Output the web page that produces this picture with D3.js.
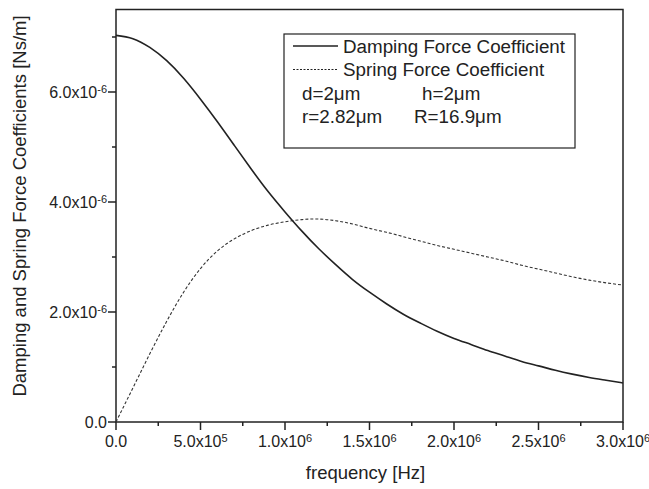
<!DOCTYPE html>
<html>
<head>
<meta charset="utf-8">
<script src="https://cdn.jsdelivr.net/npm/d3@7"></script>
<style>
  body { margin: 0; background: #fff; }
  svg { display: block; font-family: "Liberation Sans", Arial, sans-serif; }
</style>
</head>
<body>
<div id="chart"></div>
<script>
// frequency samples [Hz]
var frequency = [0, 100000, 200000, 300000, 400000, 500000, 600000, 700000, 800000, 900000,
                 1000000, 1100000, 1200000, 1300000, 1400000, 1500000, 1600000, 1700000, 1800000, 1900000,
                 2000000, 2100000, 2200000, 2300000, 2400000, 2500000, 2600000, 2700000, 2800000, 2900000, 3000000];

// coefficients, in units of 1e-6 Ns/m
var dampingCoef = [7.03, 6.97, 6.81, 6.57, 6.25, 5.87, 5.46, 5.03, 4.60, 4.19,
                   3.82, 3.47, 3.15, 2.86, 2.59, 2.36, 2.15, 1.96, 1.80, 1.65,
                   1.52, 1.41, 1.30, 1.20, 1.10, 1.02, 0.94, 0.87, 0.81, 0.76, 0.71];
var springCoef = [0, 0.62, 1.24, 1.83, 2.36, 2.79, 3.11, 3.33, 3.48, 3.58,
                  3.64, 3.68, 3.69, 3.66, 3.60, 3.52, 3.45, 3.37, 3.29, 3.21,
                  3.14, 3.07, 3.00, 2.93, 2.85, 2.78, 2.71, 2.64, 2.58, 2.53, 2.49];

// axis ticks
var xMajorTicks = [0, 500000, 1000000, 1500000, 2000000, 2500000, 3000000];
var xTickMantissa = ["0.0", "5.0", "1.0", "1.5", "2.0", "2.5", "3.0"];
var xTickExponent = ["", "5", "6", "6", "6", "6", "6"];
var xMinorTicks = [250000, 750000, 1250000, 1750000, 2250000, 2750000];
var yMajorTicks = [0, 2, 4, 6];
var yTickMantissa = ["0.0", "2.0", "4.0", "6.0"];
var yTickExponent = ["", "-6", "-6", "-6"];
var yMinorTicks = [1, 3, 5, 7];

var legendNames = ["Damping Force Coefficient", "Spring Force Coefficient"];
var paramLabels = [["d=2\u03bcm", "h=2\u03bcm"], ["r=2.82\u03bcm", "R=16.9\u03bcm"]];

var W = 649, H = 489;
var margin = {top: 9.5, right: 26, bottom: 67, left: 116};
var width = W - margin.left - margin.right;
var height = H - margin.top - margin.bottom;
var ink = "#222";

var svg = d3.select("#chart").append("svg")
    .attr("width", W)
    .attr("height", H);

var g = svg.append("g")
    .attr("transform", "translate(" + margin.left + "," + margin.top + ")");

var x = d3.scaleLinear().domain([0, 3000000]).range([0, width]);
var y = d3.scaleLinear().domain([0, 7.5]).range([height, 0]);

// frame
g.append("rect")
    .attr("width", width)
    .attr("height", height)
    .attr("fill", "none")
    .attr("stroke", ink)
    .attr("stroke-width", 1.5);

// x axis ticks
g.selectAll(".xmajor").data(xMajorTicks).enter().append("line")
    .attr("x1", function(d){ return x(d); })
    .attr("x2", function(d){ return x(d); })
    .attr("y1", height).attr("y2", height + 8)
    .attr("stroke", ink).attr("stroke-width", 1.5);
g.selectAll(".xminor").data(xMinorTicks).enter().append("line")
    .attr("x1", function(d){ return x(d); })
    .attr("x2", function(d){ return x(d); })
    .attr("y1", height).attr("y2", height + 4)
    .attr("stroke", ink).attr("stroke-width", 1.5);

var xLab = g.selectAll(".xlab").data(xMajorTicks).enter().append("text")
    .attr("x", function(d){ return x(d); })
    .attr("y", height + 25)
    .attr("text-anchor", "middle")
    .attr("font-size", 16)
    .attr("fill", ink);
xLab.append("tspan").text(function(d, i){ return xTickMantissa[i] + (xTickExponent[i] ? "x10" : ""); });
xLab.append("tspan")
    .attr("dy", "-0.45em")
    .attr("font-size", 11)
    .text(function(d, i){ return xTickExponent[i]; });

// y axis ticks
g.selectAll(".ymajor").data(yMajorTicks).enter().append("line")
    .attr("y1", function(d){ return y(d); })
    .attr("y2", function(d){ return y(d); })
    .attr("x1", -8).attr("x2", 0)
    .attr("stroke", ink).attr("stroke-width", 1.5);
g.selectAll(".yminor").data(yMinorTicks).enter().append("line")
    .attr("y1", function(d){ return y(d); })
    .attr("y2", function(d){ return y(d); })
    .attr("x1", -4).attr("x2", 0)
    .attr("stroke", ink).attr("stroke-width", 1.5);

var yLab = g.selectAll(".ylab").data(yMajorTicks).enter().append("text")
    .attr("x", -9)
    .attr("y", function(d){ return y(d) + 5.5; })
    .attr("text-anchor", "end")
    .attr("font-size", 16)
    .attr("fill", ink);
yLab.append("tspan").text(function(d, i){ return yTickMantissa[i] + (yTickExponent[i] ? "x10" : ""); });
yLab.append("tspan")
    .attr("dy", "-0.45em")
    .attr("font-size", 11)
    .text(function(d, i){ return yTickExponent[i]; });

// axis titles
svg.append("text")
    .attr("x", margin.left + width / 2 - 4)
    .attr("y", 479)
    .attr("text-anchor", "middle")
    .attr("font-size", 18.5)
    .attr("fill", ink)
    .text("frequency [Hz]");

svg.append("text")
    .attr("transform", "translate(26,206) rotate(-90)")
    .attr("text-anchor", "middle")
    .attr("font-size", 18.5)
    .attr("fill", ink)
    .text("Damping and Spring Force Coefficients [Ns/m]");

// curves
var pts = function(vals){ return frequency.map(function(f, i){ return [f, vals[i]]; }); };
var line = d3.line()
    .x(function(d){ return x(d[0]); })
    .y(function(d){ return y(d[1]); })
    .curve(d3.curveNatural);

g.append("path")
    .attr("d", line(pts(springCoef)))
    .attr("fill", "none")
    .attr("stroke", "#333")
    .attr("stroke-width", 1.1)
    .attr("stroke-dasharray", "3,2");

g.append("path")
    .attr("d", line(pts(dampingCoef)))
    .attr("fill", "none")
    .attr("stroke", ink)
    .attr("stroke-width", 1.6);

// legend
var leg = svg.append("g").attr("transform", "translate(284,34)");
leg.append("rect")
    .attr("width", 291)
    .attr("height", 114)
    .attr("fill", "#fff")
    .attr("stroke", ink)
    .attr("stroke-width", 1.2);

var rows = leg.selectAll(".lrow").data(legendNames).enter().append("g")
    .attr("transform", function(d, i){ return "translate(0," + (12 + i * 23.5) + ")"; });
rows.append("line")
    .attr("x1", 9).attr("x2", 54)
    .attr("y1", 0).attr("y2", 0)
    .attr("stroke", ink)
    .attr("stroke-width", function(d, i){ return i ? 1 : 1.5; })
    .attr("stroke-dasharray", function(d, i){ return i ? "2,1.5" : null; });
rows.append("text")
    .attr("x", 59)
    .attr("y", 6.5)
    .attr("font-size", 18.8)
    .attr("fill", ink)
    .text(function(d){ return d; });

var params = leg.selectAll(".prow").data(paramLabels).enter().append("g")
    .attr("transform", function(d, i){ return "translate(0," + (65.5 + i * 23) + ")"; });
params.append("text")
    .attr("x", 18)
    .attr("font-size", 18.8)
    .attr("fill", ink)
    .text(function(d){ return d[0]; });
params.append("text")
    .attr("x", function(d, i){ return i ? 130 : 138; })
    .attr("font-size", 18.8)
    .attr("fill", ink)
    .text(function(d){ return d[1]; });
</script>
</body>
</html>
